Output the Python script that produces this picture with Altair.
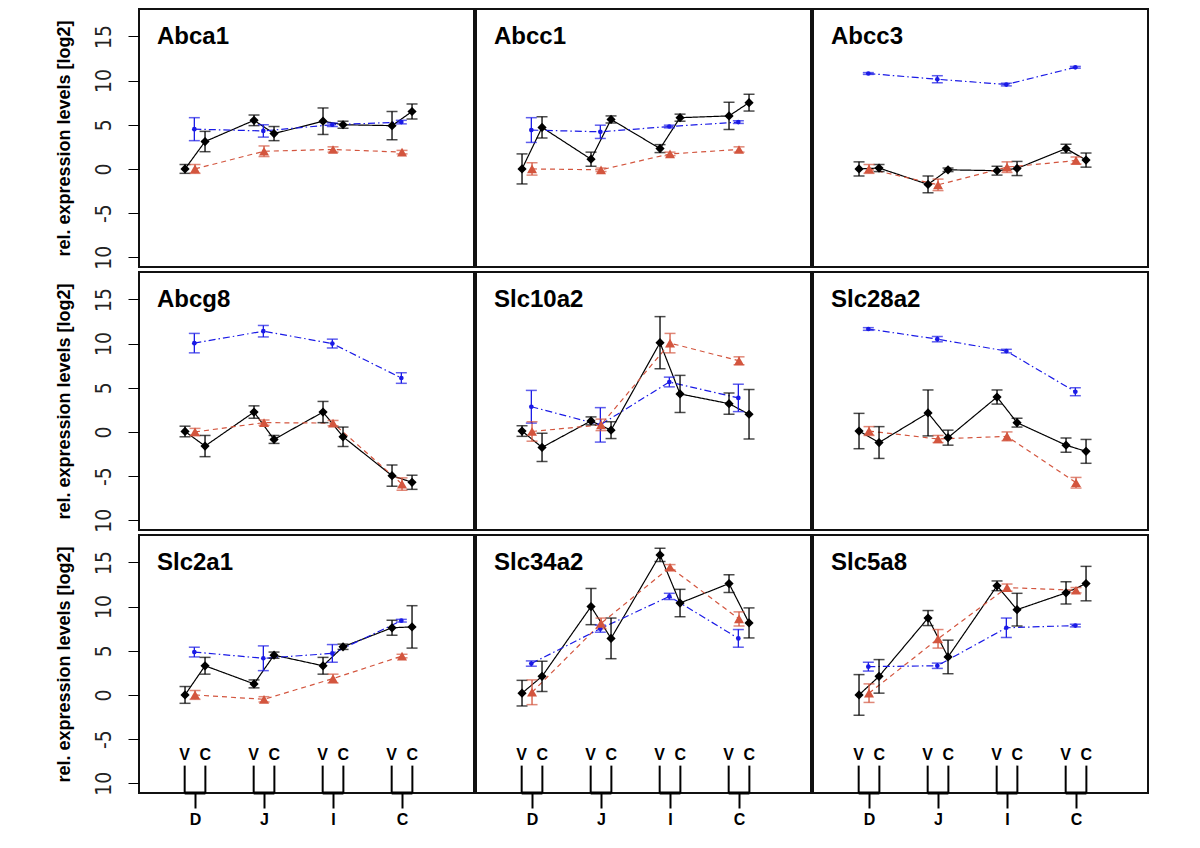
import altair as alt
import pandas as pd

GENES = ["Abca1", "Abcc1", "Abcc3", "Abcg8", "Slc10a2", "Slc28a2", "Slc2a1", "Slc34a2", "Slc5a8"]
GROUPS = ["D", "J", "I", "C"]
CONDS = ["V", "C"]

# black series: 8 values per gene (V, C for each of D, J, I, C)
BLACK = {
    "Abca1":   [0.0, 3.1, 5.5, 4.0, 5.4, 5.0, 4.9, 6.5],
    "Abcc1":   [0.0, 4.7, 1.1, 5.6, 2.3, 5.8, 6.0, 7.5],
    "Abcc3":   [0.0, 0.1, -1.75, -0.1, -0.2, 0.05, 2.3, 1.0],
    "Abcg8":   [0.05, -1.6, 2.25, -0.85, 2.25, -0.55, -4.95, -5.7],
    "Slc10a2": [0.1, -1.75, 1.25, 0.2, 10.1, 4.3, 3.2, 2.0],
    "Slc28a2": [0.1, -1.2, 2.15, -0.65, 3.95, 1.05, -1.5, -2.2],
    "Slc2a1":  [0.0, 3.3, 1.25, 4.5, 3.3, 5.45, 7.6, 7.7],
    "Slc34a2": [0.2, 2.1, 10.0, 6.4, 15.85, 10.4, 12.6, 8.15],
    "Slc5a8":  [0.0, 2.1, 8.7, 4.3, 12.35, 9.65, 11.55, 12.6],
}
BLACK_ERR = {
    "Abca1":   [0.5, 1.15, 0.6, 0.8, 1.5, 0.4, 1.6, 0.85],
    "Abcc1":   [1.7, 1.2, 0.8, 0.4, 0.45, 0.4, 1.55, 0.95],
    "Abcc3":   [0.8, 0.4, 0.95, 0.2, 0.5, 0.8, 0.5, 0.8],
    "Abcg8":   [0.6, 1.2, 0.7, 0.45, 1.2, 1.1, 1.2, 0.8],
    "Slc10a2": [0.6, 1.6, 0.45, 0.95, 2.95, 2.1, 1.2, 2.8],
    "Slc28a2": [2.0, 1.8, 2.6, 0.85, 0.8, 0.5, 0.8, 1.35],
    "Slc2a1":  [0.95, 0.95, 0.45, 0.35, 0.95, 0.3, 0.85, 2.4],
    "Slc34a2": [1.45, 1.7, 2.05, 2.3, 0.75, 1.55, 1.0, 1.7],
    "Slc5a8":  [2.3, 1.9, 0.85, 1.9, 0.55, 1.85, 1.25, 1.95],
}
# red series: one value per group
RED = {
    "Abca1":   [0.0, 2.0, 2.2, 1.9],
    "Abcc1":   [0.0, -0.1, 1.7, 2.2],
    "Abcc3":   [0.0, -1.8, 0.2, 0.95],
    "Abcg8":   [0.0, 1.05, 1.0, -5.9],
    "Slc10a2": [0.05, 0.8, 10.05, 8.05],
    "Slc28a2": [0.1, -0.8, -0.5, -5.75],
    "Slc2a1":  [0.0, -0.5, 1.85, 4.4],
    "Slc34a2": [0.3, 8.1, 14.45, 8.6],
    "Slc5a8":  [0.2, 6.35, 12.15, 11.85],
}
RED_ERR = {
    "Abca1":   [0.5, 0.6, 0.3, 0.2],
    "Abcc1":   [0.7, 0.2, 0.2, 0.3],
    "Abcc3":   [0.5, 0.65, 0.6, 0.4],
    "Abcg8":   [0.4, 0.3, 0.3, 0.7],
    "Slc10a2": [1.1, 0.65, 1.1, 0.45],
    "Slc28a2": [0.5, 0.4, 0.5, 0.6],
    "Slc2a1":  [0.5, 0.3, 0.5, 0.2],
    "Slc34a2": [1.4, 0.6, 0.3, 0.8],
    "Slc5a8":  [1.05, 1.05, 0.4, 0.3],
}
# blue series: one value per group
BLUE = {
    "Abca1":   [4.5, 4.3, 5.0, 5.3],
    "Abcc1":   [4.4, 4.2, 4.8, 5.3],
    "Abcc3":   [10.8, 10.15, 9.55, 11.5],
    "Abcg8":   [10.05, 11.4, 10.0, 6.1],
    "Slc10a2": [2.85, 0.8, 5.65, 3.85],
    "Slc28a2": [11.65, 10.5, 9.15, 4.55],
    "Slc2a1":  [4.85, 4.15, 4.7, 8.4],
    "Slc34a2": [3.55, 7.5, 11.15, 6.4],
    "Slc5a8":  [3.2, 3.3, 7.6, 7.85],
}
BLUE_ERR = {
    "Abca1":   [1.3, 0.7, 0.2, 0.2],
    "Abcc1":   [1.4, 0.75, 0.15, 0.15],
    "Abcc3":   [0.1, 0.4, 0.15, 0.1],
    "Abcg8":   [1.1, 0.65, 0.5, 0.6],
    "Slc10a2": [1.85, 1.95, 0.55, 1.55],
    "Slc28a2": [0.15, 0.3, 0.2, 0.45],
    "Slc2a1":  [0.55, 1.4, 1.0, 0.15],
    "Slc34a2": [0.3, 0.4, 0.35, 1.0],
    "Slc5a8":  [0.5, 0.3, 1.1, 0.15],
}

Y_TICKS = [-10, -5, 0, 5, 10, 15]

COL = {"black": "#000000", "red": "#d3553e", "blue": "#1a1ae6"}
DASH = {"black": [1, 0], "red": [5, 4], "blue": [7, 3, 1.5, 3]}
SHAPE = {"black": "diamond", "red": "triangle-up", "blue": "circle"}
SIZE = {"black": 85, "red": 100, "blue": 22}

W, H = 335, 258
XDOM = [0.188, 0.188 + 335 / 69]
YDOM = [-11.1, 18.1]
OFF = 0.145

xs = alt.Scale(domain=XDOM, nice=False, zero=False)
ys = alt.Scale(domain=YDOM, nice=False, zero=False)
cscale = alt.Scale(domain=list(COL), range=list(COL.values()))
dscale = alt.Scale(domain=list(DASH), range=list(DASH.values()))


def make_df(gene):
    rows = []
    for g in range(4):
        for k in range(2):
            i = 2 * g + k
            v, e = BLACK[gene][i], BLACK_ERR[gene][i]
            rows.append(dict(series="black", x=g + 1 + (-OFF if k == 0 else OFF), y=v, lo=v - e, hi=v + e))
        v, e = RED[gene][g], RED_ERR[gene][g]
        rows.append(dict(series="red", x=g + 1, y=v, lo=v - e, hi=v + e))
        v, e = BLUE[gene][g], BLUE_ERR[gene][g]
        rows.append(dict(series="blue", x=g + 1 - 0.01, y=v, lo=v - e, hi=v + e))
    return pd.DataFrame(rows)


label_expr = "[" + ",".join("'%s'" % s for s in GROUPS) + "][round(datum.value) - 1]"


def panel(idx):
    gene = GENES[idx]
    row, col = divmod(idx, 3)
    df = make_df(gene)
    if row == 2:
        xaxis = alt.Axis(values=[1, 2, 3, 4], labelExpr=label_expr, title=None, domain=False,
                         grid=False, tickSize=15, tickWidth=2, tickColor="#000",
                         labelFontSize=16, labelFontWeight="bold", labelColor="#000",
                         labelPadding=3, labelFont="Liberation Sans")
    else:
        xaxis = None
    if col == 0:
        yaxis = alt.Axis(values=Y_TICKS, labelAngle=270, labelAlign="center", labelBaseline="bottom",
                         labelExpr="datum.value == -10 ? '10' : '' + datum.value",
                         tickSize=11, tickColor="#000", tickWidth=1, domain=False, grid=False,
                         labelFontSize=21, labelFont="Liberation Sans Narrow, DejaVu Sans Condensed, Liberation Sans",
                         labelColor="#222", labelPadding=14,
                         title="rel. expression levels [log2]", titleFontSize=18,
                         titleFontWeight="bold", titleFont="Liberation Sans", titleColor="#000",
                         titlePadding=20)
    else:
        yaxis = None
    X = alt.X("x:Q", scale=xs, axis=xaxis)
    base = alt.Chart(df)
    lines = base.mark_line(strokeWidth=1.2).encode(
        x=X, y=alt.Y("y:Q", scale=ys, axis=yaxis),
        color=alt.Color("series:N", scale=cscale, legend=None),
        strokeDash=alt.StrokeDash("series:N", scale=dscale, legend=None),
        detail="series:N",
    )
    bars = base.mark_rule(strokeWidth=1.3).encode(
        x=X, y=alt.Y("lo:Q", scale=ys), y2="hi:Q",
        color=alt.Color("series:N", scale=cscale, legend=None),
    )
    cap_lo = base.mark_tick(orient="horizontal", size=11, thickness=1.5).encode(
        x=X, y=alt.Y("lo:Q", scale=ys), color=alt.Color("series:N", scale=cscale, legend=None))
    cap_hi = base.mark_tick(orient="horizontal", size=11, thickness=1.5).encode(
        x=X, y=alt.Y("hi:Q", scale=ys), color=alt.Color("series:N", scale=cscale, legend=None))
    layers = [lines, bars, cap_lo, cap_hi]
    for s in ["blue", "red", "black"]:
        layers.append(
            base.transform_filter(alt.datum.series == s).mark_point(
                filled=True, opacity=1, shape=SHAPE[s], size=SIZE[s], color=COL[s], strokeWidth=0
            ).encode(x=X, y=alt.Y("y:Q", scale=ys))
        )
    title = alt.Chart(pd.DataFrame({"gene": [gene]})).mark_text(
        align="left", baseline="alphabetic", fontSize=24, fontWeight="bold",
        font="Liberation Sans", color="#000"
    ).encode(x=alt.value(18), y=alt.value(35), text="gene:N")
    layers.append(title)
    if row == 2:
        br = []
        for g in range(4):
            for k, c in enumerate(CONDS):
                br.append(dict(x=g + 1 + (-0.15 if k == 0 else 0.15), cond=c, g=g + 1))
        bdf = pd.DataFrame(br)
        vrules = alt.Chart(bdf).mark_rule(strokeWidth=2, color="#000").encode(
            x=alt.X("x:Q", scale=xs), y=alt.datum(-8.0), y2=alt.datum(YDOM[0]))
        hdf = pd.DataFrame({"x1": [g + 1 - 0.15 for g in range(4)], "x2": [g + 1 + 0.15 for g in range(4)]})
        hrules = alt.Chart(hdf).mark_rule(strokeWidth=3, color="#000").encode(
            x=alt.X("x1:Q", scale=xs), x2="x2:Q", y=alt.datum(YDOM[0]))
        vtext = alt.Chart(bdf).mark_text(fontSize=16, fontWeight="bold", font="Liberation Sans",
                                         color="#000", baseline="middle").encode(
            x=alt.X("x:Q", scale=xs), y=alt.datum(-6.8), text="cond:N")
        layers += [vrules, hrules, vtext]
    return alt.layer(*layers).properties(width=W, height=H)


rows = [alt.hconcat(*[panel(r * 3 + c) for c in range(3)], spacing=0) for r in range(3)]
chart = alt.vconcat(*rows, spacing=0).properties(
    padding={"left": 45, "top": 0, "right": 5, "bottom": 5}
).configure(font="Liberation Sans").configure_view(stroke="#111", strokeWidth=2)

chart.save("out.html", embed_options={"renderer": "svg", "actions": False})
